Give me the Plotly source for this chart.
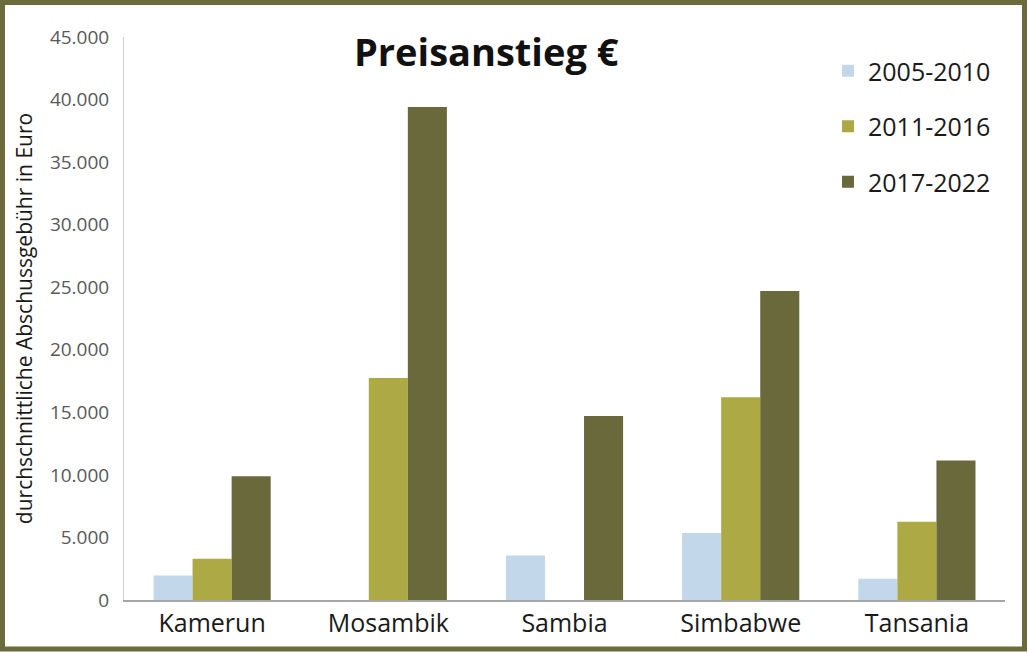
import plotly.graph_objects as go

countries = ["Kamerun", "Mosambik", "Sambia", "Simbabwe", "Tansania"]
periods = ["2005-2010", "2011-2016", "2017-2022"]
fee_2005_2010 = [1950, 0, 3550, 5350, 1700]
fee_2011_2016 = [3300, 17750, 0, 16200, 6250]
fee_2017_2022 = [9900, 39400, 14700, 24700, 11150]
colors = ["#c2d7ea", "#adaa45", "#69693c"]

W, H = 1028, 653
ml, mr, mt, mb = 124, 23, 37, 53
pw, ph = W - ml - mr, H - mt - mb

fig = go.Figure()
for name, vals, col in zip(periods, [fee_2005_2010, fee_2011_2016, fee_2017_2022], colors):
    fig.add_trace(go.Bar(x=countries, y=vals, name=name, marker_color=col,
                         marker_line_width=0, legendgroup=name))

# olive frame round the whole picture
fig.add_shape(type="rect", xref="paper", yref="paper",
              x0=(-ml + 2.5) / pw, x1=1 + (mr - 3.5) / pw,
              y0=(-mb + 4) / ph, y1=1 + (mt - 2.5) / ph,
              line=dict(color="#6b6b3b", width=5), layer="above")

fig.add_annotation(text="<b>Preisanstieg €</b>", xref="paper", yref="paper",
                   x=(486 - ml) / pw, y=1 + (mt - 51) / ph, showarrow=False,
                   xanchor="center", yanchor="middle",
                   font=dict(size=38, color="#111111", family="Open Sans"))

fig.update_layout(
    width=W, height=H,
    margin=dict(l=ml, r=mr, t=mt, b=mb),
    paper_bgcolor="white", plot_bgcolor="white",
    font=dict(family="Open Sans", color="#222222"),
    separators=",.",
    barmode="group", bargap=0.335, bargroupgap=0,
    showlegend=True,
    legend=dict(x=(828 - ml) / pw, y=1 + (mt - 48) / ph, xanchor="left", yanchor="top",
                font=dict(size=25, color="#1a1a1a"), tracegroupgap=20,
                traceorder="grouped", bgcolor="rgba(0,0,0,0)"),
    xaxis=dict(showline=True, linecolor="#a6a6a6", linewidth=1.5, ticks="",
               tickfont=dict(size=25, color="#1a1a1a")),
    yaxis=dict(range=[0, 45000], dtick=5000, tickformat=",d", showgrid=False,
               showline=True, linecolor="#d0d0d0", linewidth=1, zeroline=False,
               ticks="", ticklabelstandoff=10,
               tickfont=dict(size=19, color="#595959"),
               title=dict(text="durchschnittliche Abschussgebühr in Euro",
                          font=dict(size=21, color="#1a1a1a"), standoff=11)),
)

fig.write_html("out.html", config={"displayModeBar": False},
               post_script="document.body.style.margin='0';")
